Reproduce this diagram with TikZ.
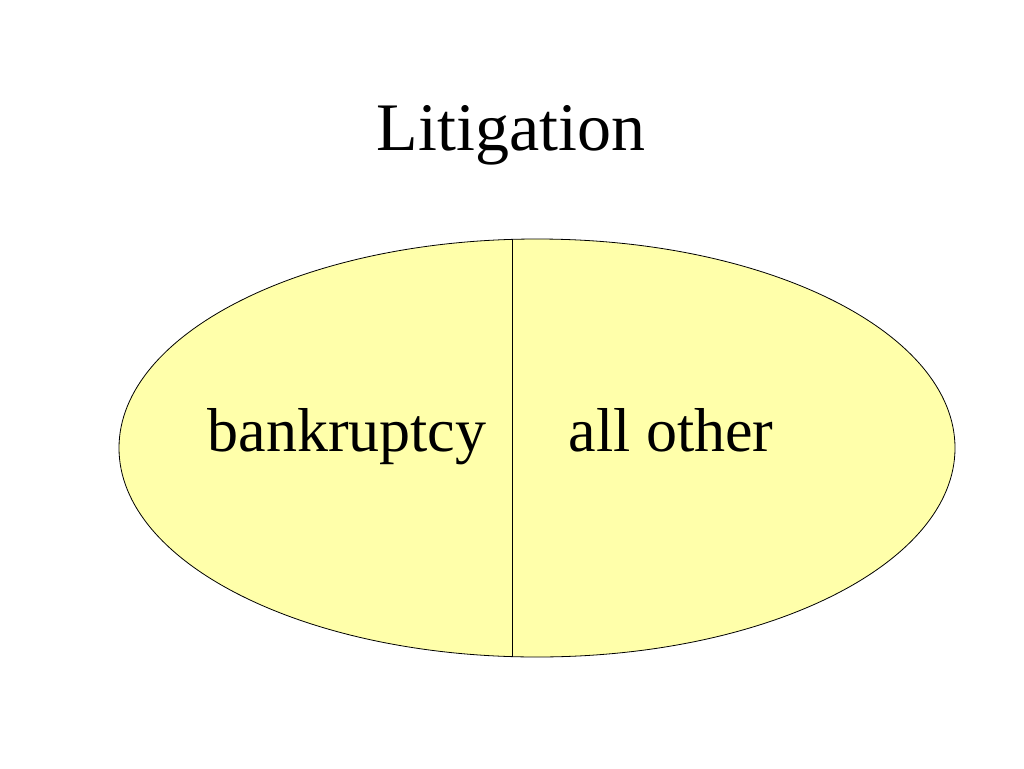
\documentclass[tikz,border=0pt]{standalone}
\usepackage{fontspec}
\setmainfont{Liberation Serif}
\usetikzlibrary{shapes.geometric}
\definecolor{paleyellow}{HTML}{FFFFAA}
\begin{document}
\begin{tikzpicture}[x=1pt,y=-1pt,
  part/.style={anchor=base, inner sep=0pt, font=\fontsize{62}{70}\selectfont},
  title/.style={anchor=base, inner sep=0pt, font=\fontsize{68}{76}\selectfont}]
\useasboundingbox (0,0) rectangle (1024,768);
\node[ellipse, draw, fill=paleyellow, line width=0.8pt, inner sep=0pt,
  minimum width=836pt, minimum height=418pt] (whole) at (537,448) {};
\coordinate (divtop) at (512,239.4);
\coordinate (divbot) at (512,656.6);
\draw[line width=0.8pt] (divtop) -- (divbot);
\node[title] (lit) at (511,150) {Litigation};
\node[part] (bank) at (347,451) {bankruptcy};
\node[part] (other) at (671,451) {all other};
\end{tikzpicture}
\end{document}
